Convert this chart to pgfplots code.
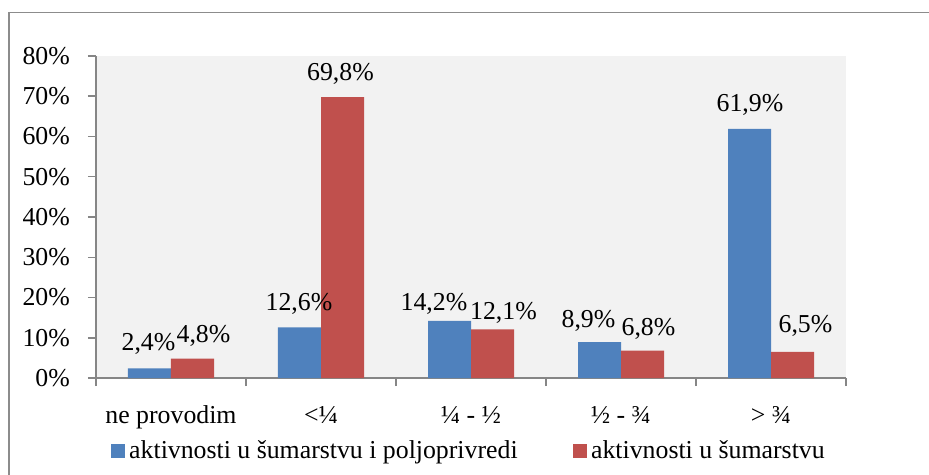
\documentclass[border=0pt]{standalone}
\usepackage{fontspec}
\setmainfont{Liberation Serif}
\usepackage{pgfplots}
\usepackage{pgfplotstable}
\pgfplotsset{compat=1.18}
\definecolor{cblue}{HTML}{4F81BD}
\definecolor{cred}{HTML}{C0504D}
\definecolor{axgray}{HTML}{868686}
\definecolor{framegray}{HTML}{8C8C8C}
% x = category, y = value (%), dx/dy = label offset (bp) as placed in the original
\pgfplotstableread{
x y dx dy
0 2.4 -1 18
1 12.6 -0.5 17
2 14.2 -15.5 10
3 8.9 -11 15
4 61.9 0.5 17
}\bluedata
\pgfplotstableread{
x y dx dy
0 4.8 11 15.7
1 69.8 -2 17
2 12.1 11 10
3 6.8 6 15.6
4 6.5 13 19
}\reddata
\begin{document}
\fontsize{25.8bp}{30bp}\selectfont
\begin{tikzpicture}
\useasboundingbox (-96bp,-97bp) rectangle (833bp,378bp);
\begin{axis}[
  at={(0,0)}, anchor=south west,
  scale only axis, width=750bp, height=322bp,
  xmin=-0.5, xmax=4.5, ymin=0, ymax=80,
  axis lines*=left,
  axis line style={axgray, line width=1.5bp},
  axis background/.style={fill=gray!10},
  xtick={0,1,2,3,4},
  xticklabels={ne provodim, {<¼}, {¼ - ½}, {½ - ¾}, {> ¾}},
  minor xtick={-0.5,0.5,1.5,2.5,3.5,4.5},
  ytick={0,10,...,80},
  yticklabel={\pgfmathprintnumber{\tick}\%},
  tick align=outside,
  major tick length=8bp, minor tick length=8bp,
  tick style={axgray, line width=1.5bp},
  major x tick style={draw=none},
  xticklabel style={anchor=base, yshift=-37bp, inner sep=0pt},
  yticklabel style={inner sep=0pt, xshift=-18bp},
  /pgf/number format/assume math mode=true,
  ybar, bar width=43bp,
  nodes near coords={\pgfmathprintnumber[fixed,fixed zerofill,precision=1,use comma]{\pgfplotspointmeta}\%},
  legend columns=2,
  legend style={draw=none, fill=none, at={(0.5,0)}, anchor=center, yshift=-73bp, xshift=-1bp,
    /tikz/every even column/.append style={column sep=51.5bp},
    nodes={inner sep=2.5bp, inner xsep=4bp}},
  legend image code/.code={\fill[#1] (0bp,-7bp) rectangle (14bp,7bp);},
]
\addplot[fill=cblue, draw=none, bar shift=-21.5bp,
  visualization depends on={\thisrow{dx} \as \labdx},
  visualization depends on={\thisrow{dy} \as \labdy},
  nodes near coords style={anchor=base, xshift=\labdx*1bp, yshift=\labdy*1bp, inner sep=0pt, black}]
  table[x=x, y=y] {\bluedata};
\addplot[fill=cred, draw=none, bar shift=21.5bp,
  visualization depends on={\thisrow{dx} \as \labdx},
  visualization depends on={\thisrow{dy} \as \labdy},
  nodes near coords style={anchor=base, xshift=\labdx*1bp, yshift=\labdy*1bp, inner sep=0pt, black}]
  table[x=x, y=y] {\reddata};
\legend{aktivnosti u šumarstvu i poljoprivredi, aktivnosti u šumarstvu}
\end{axis}
\draw[framegray, line width=1.5bp] (-87bp,-97bp) -- (-87bp,365.5bp) -- (833bp,365.5bp);
\end{tikzpicture}
\end{document}
